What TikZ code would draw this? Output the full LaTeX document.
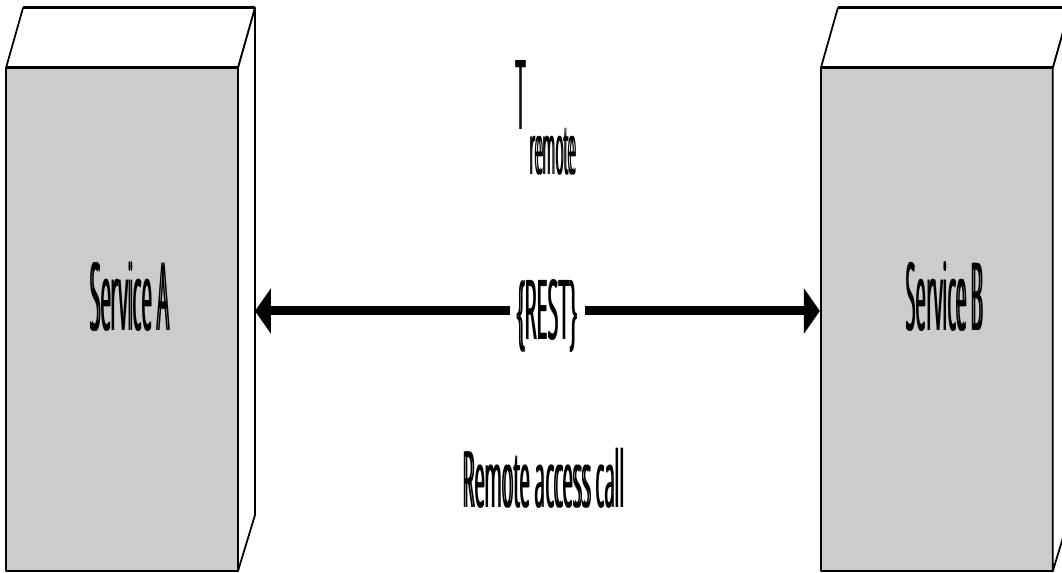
\documentclass[tikz,border=0pt]{standalone}
\usepackage{fontspec}
\setmainfont{Open Sans}
\usepackage{graphicx}
\usetikzlibrary{arrows.meta,calc}
\definecolor{boxgray}{HTML}{CCCCCC}
\tikzset{face/.style={draw,line width=0.035cm},
  front/.style={face,fill=boxgray},
  topedge/.style={line width=0.06cm},
  conn/.style={line width=0.18cm},
  lbl/.style={inner sep=0pt}}
% squeezed label, set twice a hair apart for heavier stems
\newcommand{\sqz}[3]{\rlap{\resizebox*{#1}{#2}{#3}}\kern0.024cm\resizebox*{#1}{#2}{#3}}

\begin{document}
\begin{tikzpicture}[x=0.02cm,y=-0.02cm,>={Triangle[length=0.32cm,width=0.9cm]},line join=round]
\useasboundingbox (0,0) rectangle (1062,573);
\clip (0,0) rectangle (1062,573);
% --- Service A
\begin{scope}
\draw[front] (6,68) rectangle (238,571);
\draw[face,fill=white] (6,68) -- (23,8) -- (255,8) -- (238,68) -- cycle;
\draw[face,fill=white] (238,68) -- (255,8) -- (255,515) -- (238,571) -- cycle;
\draw[topedge] (23,8) -- (255,8) (6,68) -- (238,68);
\node[lbl,anchor=base] (svcA) at (130,331) {\sqz{1.58cm}{1.4cm}{Service A}};
\coordinate (sideA) at (255,311);
\end{scope}
% --- Service B, same box moved right
\begin{scope}[xshift=16.3cm]
\draw[front] (6,68) rectangle (238,571);
\draw[face,fill=white] (6,68) -- (23,8) -- (255,8) -- (238,68) -- cycle;
\draw[face,fill=white] (238,68) -- (255,8) -- (255,515) -- (238,571) -- cycle;
\draw[topedge] (23,8) -- (255,8) (6,68) -- (238,68);
\node[lbl,anchor=base] (svcB) at (130,331) {\sqz{1.54cm}{1.4cm}{Service B}};
\coordinate (faceB) at (5,311);
\end{scope}
% --- call between them
\node[lbl,inner xsep=0.14cm] (rest) at (547.5,316.5) {\sqz{1.2cm}{1.46cm}{\{REST\}}};
\draw[conn,->] (rest.west |- sideA) -- (sideA);
\draw[conn,->] (rest.east |- faceB) -- (faceB);
\node[lbl,anchor=base west] (tremote) at (515,130) {\sqz{0.2cm}{1.38cm}{T}\hspace{0.06cm}\raisebox{-0.9cm}{\sqz{0.92cm}{0.94cm}{remote}}};
\node[lbl,anchor=base] (call) at (544,508) {\sqz{3.22cm}{1.2cm}{Remote access call}};
\end{tikzpicture}
\end{document}
